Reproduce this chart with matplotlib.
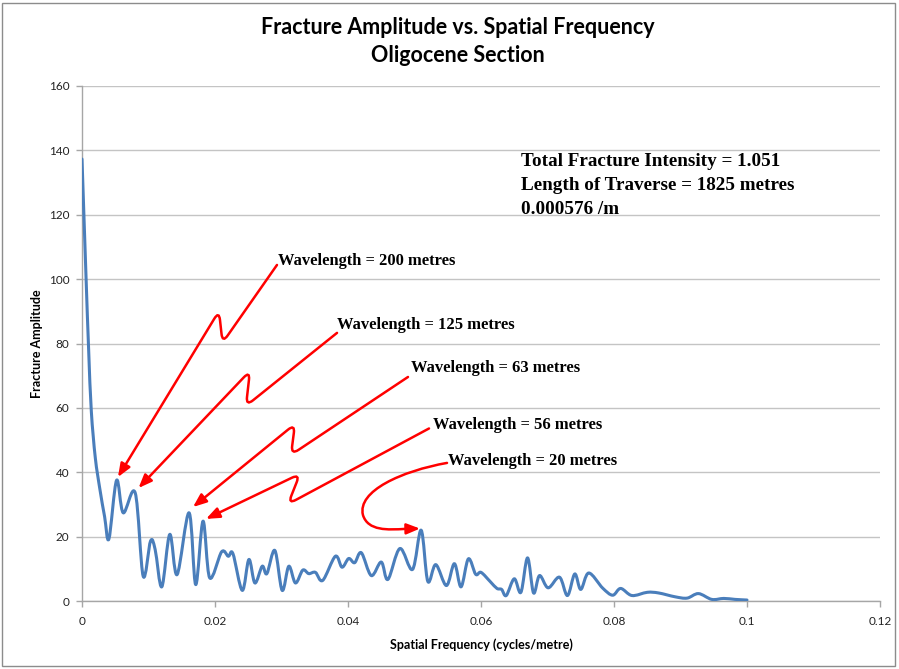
import numpy as np
import matplotlib
matplotlib.use("Agg")
import matplotlib.pyplot as plt
from matplotlib.path import Path
from matplotlib.patches import FancyArrowPatch, PathPatch, Rectangle

# spectrum (cycles/metre, amplitude)
freq = [0.0000, 0.0006, 0.0010, 0.0014, 0.0020, 0.0027, 0.0034, 0.00405,
        0.0052, 0.0062, 0.0080, 0.0092, 0.0103, 0.0110, 0.0120, 0.0132,
        0.0143, 0.0161, 0.0171, 0.0182, 0.0192, 0.0210, 0.0220, 0.0227,
        0.0241, 0.0251, 0.0260, 0.0271, 0.0278, 0.0290, 0.0301, 0.0311,
        0.0321, 0.0332, 0.0341, 0.0351, 0.0362, 0.0381, 0.0391, 0.0401,
        0.0410, 0.0420, 0.0435, 0.0450, 0.0460, 0.0478, 0.0497, 0.0510,
        0.0520, 0.0532, 0.0548, 0.0560, 0.0570, 0.0581, 0.0592, 0.0600,
        0.0614, 0.0624, 0.0631, 0.0638, 0.0650, 0.0660, 0.0670, 0.0679,
        0.0688, 0.0701, 0.0718, 0.0730, 0.0741, 0.0750, 0.0762, 0.0783,
        0.0798, 0.0810, 0.0827, 0.0850, 0.0867, 0.0892, 0.0910, 0.0927,
        0.0947, 0.0965, 0.0982, 0.1000]
amp = [137.3, 101.0, 78.0, 59.0, 44.5, 34.6, 26.2, 19.3,
       37.5, 27.4, 33.6, 7.7, 18.6, 16.0, 4.4, 20.7,
       8.2, 27.4, 5.1, 24.8, 7.2, 15.3, 13.9, 14.7,
       3.3, 12.9, 5.6, 10.8, 8.5, 15.7, 3.3, 10.8,
       5.6, 9.6, 8.5, 8.9, 6.4, 13.9, 10.5, 13.2,
       11.9, 15.0, 7.9, 12.1, 6.7, 16.3, 9.8, 22.0,
       6.1, 11.3, 4.8, 11.6, 4.4, 13.1, 8.3, 8.9,
       6.0, 3.9, 3.6, 1.7, 6.9, 2.7, 13.4, 2.5,
       7.9, 4.1, 7.4, 1.7, 8.4, 3.6, 8.7, 4.0,
       1.8, 3.9, 1.7, 2.7, 2.5, 1.3, 0.9, 2.3,
       0.5, 0.8, 0.5, 0.3]

x_ticks = [0, 0.02, 0.04, 0.06, 0.08, 0.1, 0.12]
x_tick_labels = ["0", "0.02", "0.04", "0.06", "0.08", "0.1", "0.12"]
y_ticks = [0, 20, 40, 60, 80, 100, 120, 140, 160]

stats_text = ["Total Fracture Intensity = 1.051",
              "Length of Traverse = 1825 metres",
              "0.000576 /m"]
stats_pos = [(0.0660, 136.4), (0.0660, 129.0), (0.0660, 121.6)]

wave_text = ["Wavelength = 200 metres", "Wavelength = 125 metres",
             "Wavelength = 63 metres", "Wavelength = 56 metres",
             "Wavelength = 20 metres"]
wave_pos = [(0.02947, 105.6), (0.03835, 85.7), (0.04947, 72.4),
            (0.05278, 54.7), (0.05504, 43.5)]

# zigzag arrows: label end -> lower bend -> upper bend -> peak
zigzags = [
    [(0.02932, 104.4), (0.02113, 80.2), (0.02060, 90.1), (0.00541, 38.5)],
    [(0.03835, 83.3), (0.02466, 60.6), (0.02526, 71.5), (0.00850, 35.1)],
    [(0.04902, 69.6), (0.03143, 45.4), (0.03203, 55.0), (0.01669, 29.2)],
    [(0.05218, 53.6), (0.03098, 30.1), (0.03278, 39.5), (0.01865, 25.5)],
]
# looped arrow for the 20 m peak (bezier control points)
loop_pts = [(0.05489, 42.9), (0.04812, 40.4), (0.04135, 34.2), (0.04225, 26.7),
            (0.04300, 21.7), (0.04602, 22.1), (0.04857, 22.4), (0.05083, 22.5)]

BLUE = "#4a7ebb"
RED = "#ff0000"
SERIF = "Liberation Serif"
SANS = "Lato"


def smooth_path(xs, ys):
    # excel-like smoothed line: catmull-rom segments as cubic beziers
    p = np.column_stack([xs, ys])
    pad = np.vstack([p[:1], p, p[-1:]])
    verts, codes = [p[0]], [Path.MOVETO]
    for i in range(len(p) - 1):
        p0, p1, p2, p3 = pad[i], pad[i + 1], pad[i + 2], pad[i + 3]
        verts += [p1 + (p2 - p0) / 6, p2 - (p3 - p1) / 6, p2]
        codes += [Path.CURVE4] * 3
    return Path(verts, codes)


def zigzag_path(ax, pts, r=9):
    d = ax.transData.transform(pts)
    verts, codes = [d[0]], [Path.MOVETO]
    for k in range(1, len(d) - 1):
        a, c, b = d[k - 1], d[k], d[k + 1]
        u = (a - c) / np.linalg.norm(a - c)
        v = (b - c) / np.linalg.norm(b - c)
        verts += [c + u * r, c, c + v * r]
        codes += [Path.LINETO, Path.CURVE3, Path.CURVE3]
    verts.append(d[-1])
    codes.append(Path.LINETO)
    return Path(ax.transData.inverted().transform(np.array(verts)), codes)


fig = plt.figure(figsize=(8.99, 6.69), dpi=100)
ax = fig.add_axes([82 / 899, 1 - 601 / 669, 798 / 899, 515 / 669])
ax.set_xlim(0, 0.12)
ax.set_ylim(0, 160)

ax.add_patch(PathPatch(smooth_path(freq, amp), fill=False, edgecolor=BLUE,
                       lw=2.2, capstyle="round", joinstyle="round", zorder=3))

ax.set_xticks(x_ticks)
ax.set_xticklabels(x_tick_labels)
ax.set_yticks(y_ticks)
ax.grid(axis="y", color="#c4c4c4", lw=1)
ax.set_axisbelow(True)
for s in ["top", "right"]:
    ax.spines[s].set_visible(False)
for s in ["left", "bottom"]:
    ax.spines[s].set_color("#a6a6a6")
    ax.spines[s].set_linewidth(1)
ax.tick_params(axis="both", length=4, width=1, color="#a6a6a6",
               labelsize=8.5, labelcolor="#222222")
ax.tick_params(axis="x", pad=7)
ax.tick_params(axis="y", pad=5)
for lab in ax.get_xticklabels() + ax.get_yticklabels():
    lab.set_family(SANS)

ax.set_xlabel("Spatial Frequency (cycles/metre)", family=SANS,
              fontweight="bold", fontsize=9, labelpad=8)
ax.set_ylabel("Fracture Amplitude", family=SANS, fontweight="bold",
              fontsize=9, labelpad=4)

fig.text(458 / 899, 1 - 28 / 669, "Fracture Amplitude vs. Spatial Frequency",
         ha="center", va="center", family=SANS, fontweight="bold", fontsize=15.5)
fig.text(458 / 899, 1 - 56 / 669, "Oligocene Section",
         ha="center", va="center", family=SANS, fontweight="bold", fontsize=15.5)

for txt, (x, y) in zip(stats_text, stats_pos):
    ax.text(x, y, txt, ha="left", va="center", family=SERIF,
            fontweight="bold", fontsize=13.8)
for txt, (x, y) in zip(wave_text, wave_pos):
    ax.text(x, y, txt, ha="left", va="center", family=SERIF,
            fontweight="bold", fontsize=11.9)

astyle = "-|>,head_length=0.8,head_width=0.32"
for pts in zigzags:
    ax.add_patch(FancyArrowPatch(path=zigzag_path(ax, pts), arrowstyle=astyle,
                                 mutation_scale=10, color=RED, lw=1.8,
                                 joinstyle="round", capstyle="round", zorder=4))
loop_codes = [Path.MOVETO] + [Path.CURVE4] * 6 + [Path.LINETO]
ax.add_patch(FancyArrowPatch(path=Path(loop_pts, loop_codes), arrowstyle=astyle,
                             mutation_scale=10, color=RED, lw=1.8, zorder=4))

fig.patches.append(Rectangle((2 / 899, 3 / 669), 893 / 899, 663 / 669,
                             transform=fig.transFigure, fill=False,
                             edgecolor="#8c8c8c", lw=1))

fig.savefig("out.png", dpi=100)
